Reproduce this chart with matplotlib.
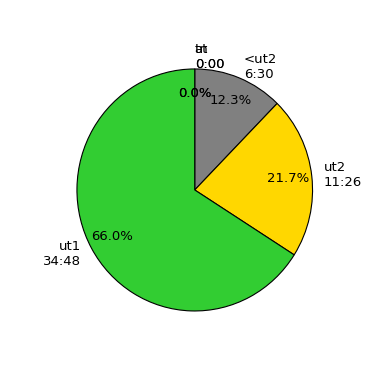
import matplotlib
matplotlib.use('Agg')
import matplotlib.pyplot as plt

# time per category, in minutes
names = ['at', 'tn', '<ut2', 'ut2', 'ut1']
minutes = [0, 0, 390, 686, 2088]
colors = ['#1f77b4', '#ff7f0e', 'gray', 'gold', 'limegreen']

labels = ['%s\n%d:%02d' % (n, m // 60, m % 60) for n, m in zip(names, minutes)]

fig = plt.figure(figsize=(3.8, 3.8), dpi=100)
ax = fig.add_subplot(111)
wedges, texts, autotexts = ax.pie(minutes, labels=labels, colors=colors,
                                  autopct='%1.1f%%', pctdistance=0.8,
                                  startangle=90, counterclock=False,
                                  textprops={'fontsize': 9.5},
                                  wedgeprops={'edgecolor': 'black', 'linewidth': 0.8})
# empty slices sit at the top; their labels hang to the right
for t, m in zip(texts, minutes):
    if m == 0:
        t.set_ha('left')

# the original is slightly taller than wide
ax.set_aspect('auto')
ax.set_xlim(-1.25, 1.25)
ax.set_ylim(-1.225, 1.193)
fig.savefig('out.png', dpi=100)
